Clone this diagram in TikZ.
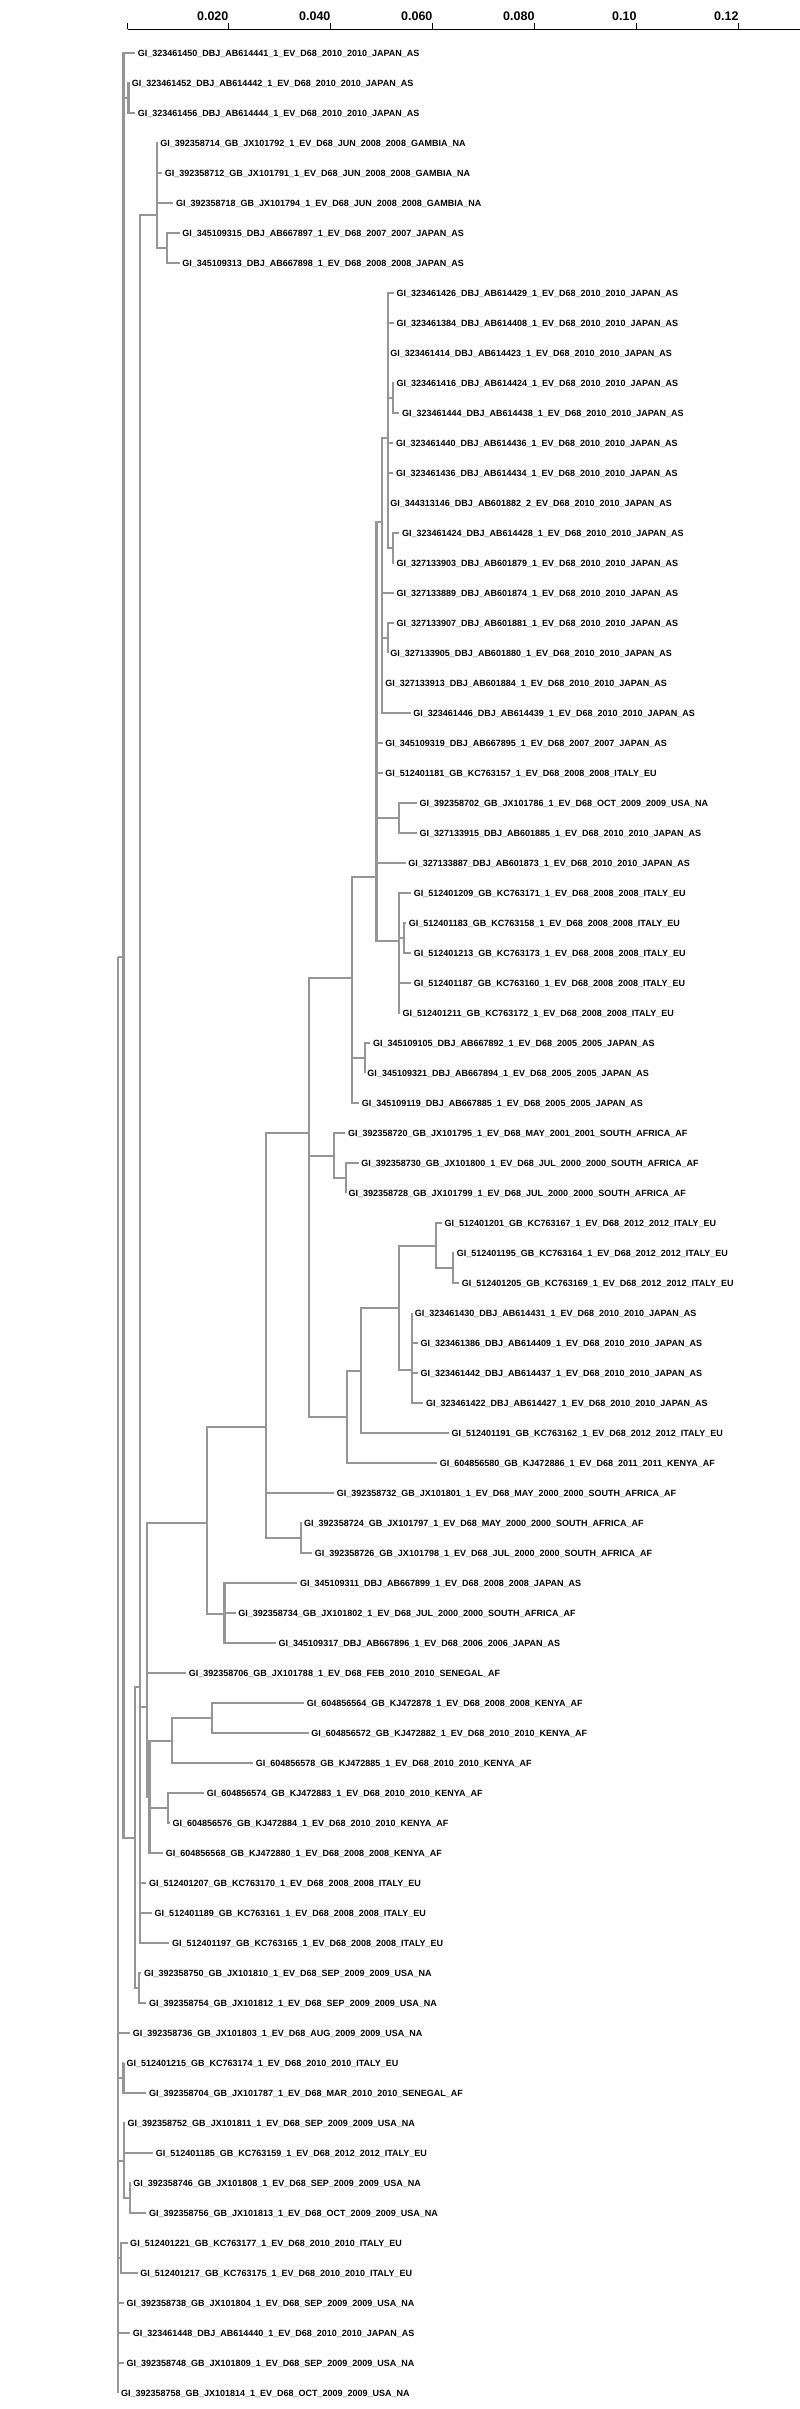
\documentclass[tikz,border=0pt]{standalone}
\usepackage{fontspec}
\setmainfont{Liberation Sans}
\definecolor{branch}{RGB}{150,150,150}
\begin{document}
\begin{tikzpicture}[x=0.5102pt,y=-1pt,
  br/.style={draw=branch,line width=2.2pt},
  taxon/.style={anchor=west,inner xsep=2.5pt,inner ysep=0pt,text height=6.4pt,text depth=0pt,font=\fontsize{9}{9}\selectfont\bfseries},
  ticklab/.style={anchor=east,inner sep=0pt,font=\fontsize{12.5}{12.5}\selectfont\bfseries}]
\useasboundingbox (0,0) rectangle (1568,2409);

% scale axis
\coordinate (a0) at (250,29.3);
\coordinate (a1) at (1568,29.3);
\draw[line width=1pt] (a0) -- (a1);
\draw[line width=1pt] (a0) -- ++(0,-6.6);
\foreach \k/\v in {1/0.020,2/0.040,3/0.060,4/0.080,5/0.10,6/0.12}{
  \coordinate (tk\k) at ({248+200*\k},29.3);
  \draw[line width=1pt] (tk\k) -- ++(0,-6.6);
  \node[ticklab] (tl\k) at ({248+200*\k},15.7) {\v};
}

% taxa
\foreach \i/\bx/\txt in {
1/265/GI\_323461450\_DBJ\_AB614441\_1\_EV\_D68\_2010\_2010\_JAPAN\_AS,
2/253/GI\_323461452\_DBJ\_AB614442\_1\_EV\_D68\_2010\_2010\_JAPAN\_AS,
3/265/GI\_323461456\_DBJ\_AB614444\_1\_EV\_D68\_2010\_2010\_JAPAN\_AS,
4/309/GI\_392358714\_GB\_JX101792\_1\_EV\_D68\_JUN\_2008\_2008\_GAMBIA\_NA,
5/318/GI\_392358712\_GB\_JX101791\_1\_EV\_D68\_JUN\_2008\_2008\_GAMBIA\_NA,
6/340/GI\_392358718\_GB\_JX101794\_1\_EV\_D68\_JUN\_2008\_2008\_GAMBIA\_NA,
7/352/GI\_345109315\_DBJ\_AB667897\_1\_EV\_D68\_2007\_2007\_JAPAN\_AS,
8/352/GI\_345109313\_DBJ\_AB667898\_1\_EV\_D68\_2008\_2008\_JAPAN\_AS,
9/772/GI\_323461426\_DBJ\_AB614429\_1\_EV\_D68\_2010\_2010\_JAPAN\_AS,
10/772/GI\_323461384\_DBJ\_AB614408\_1\_EV\_D68\_2010\_2010\_JAPAN\_AS,
11/760/GI\_323461414\_DBJ\_AB614423\_1\_EV\_D68\_2010\_2010\_JAPAN\_AS,
12/772/GI\_323461416\_DBJ\_AB614424\_1\_EV\_D68\_2010\_2010\_JAPAN\_AS,
13/783/GI\_323461444\_DBJ\_AB614438\_1\_EV\_D68\_2010\_2010\_JAPAN\_AS,
14/771/GI\_323461440\_DBJ\_AB614436\_1\_EV\_D68\_2010\_2010\_JAPAN\_AS,
15/771/GI\_323461436\_DBJ\_AB614434\_1\_EV\_D68\_2010\_2010\_JAPAN\_AS,
16/760/GI\_344313146\_DBJ\_AB601882\_2\_EV\_D68\_2010\_2010\_JAPAN\_AS,
17/783/GI\_323461424\_DBJ\_AB614428\_1\_EV\_D68\_2010\_2010\_JAPAN\_AS,
18/772/GI\_327133903\_DBJ\_AB601879\_1\_EV\_D68\_2010\_2010\_JAPAN\_AS,
19/772/GI\_327133889\_DBJ\_AB601874\_1\_EV\_D68\_2010\_2010\_JAPAN\_AS,
20/772/GI\_327133907\_DBJ\_AB601881\_1\_EV\_D68\_2010\_2010\_JAPAN\_AS,
21/760/GI\_327133905\_DBJ\_AB601880\_1\_EV\_D68\_2010\_2010\_JAPAN\_AS,
22/750/GI\_327133913\_DBJ\_AB601884\_1\_EV\_D68\_2010\_2010\_JAPAN\_AS,
23/805/GI\_323461446\_DBJ\_AB614439\_1\_EV\_D68\_2010\_2010\_JAPAN\_AS,
24/750/GI\_345109319\_DBJ\_AB667895\_1\_EV\_D68\_2007\_2007\_JAPAN\_AS,
25/750/GI\_512401181\_GB\_KC763157\_1\_EV\_D68\_2008\_2008\_ITALY\_EU,
26/817/GI\_392358702\_GB\_JX101786\_1\_EV\_D68\_OCT\_2009\_2009\_USA\_NA,
27/817/GI\_327133915\_DBJ\_AB601885\_1\_EV\_D68\_2010\_2010\_JAPAN\_AS,
28/795/GI\_327133887\_DBJ\_AB601873\_1\_EV\_D68\_2010\_2010\_JAPAN\_AS,
29/806/GI\_512401209\_GB\_KC763171\_1\_EV\_D68\_2008\_2008\_ITALY\_EU,
30/796/GI\_512401183\_GB\_KC763158\_1\_EV\_D68\_2008\_2008\_ITALY\_EU,
31/806/GI\_512401213\_GB\_KC763173\_1\_EV\_D68\_2008\_2008\_ITALY\_EU,
32/806/GI\_512401187\_GB\_KC763160\_1\_EV\_D68\_2008\_2008\_ITALY\_EU,
33/784/GI\_512401211\_GB\_KC763172\_1\_EV\_D68\_2008\_2008\_ITALY\_EU,
34/726/GI\_345109105\_DBJ\_AB667892\_1\_EV\_D68\_2005\_2005\_JAPAN\_AS,
35/715/GI\_345109321\_DBJ\_AB667894\_1\_EV\_D68\_2005\_2005\_JAPAN\_AS,
36/704/GI\_345109119\_DBJ\_AB667885\_1\_EV\_D68\_2005\_2005\_JAPAN\_AS,
37/677/GI\_392358720\_GB\_JX101795\_1\_EV\_D68\_MAY\_2001\_2001\_SOUTH\_AFRICA\_AF,
38/703/GI\_392358730\_GB\_JX101800\_1\_EV\_D68\_JUL\_2000\_2000\_SOUTH\_AFRICA\_AF,
39/678/GI\_392358728\_GB\_JX101799\_1\_EV\_D68\_JUL\_2000\_2000\_SOUTH\_AFRICA\_AF,
40/866/GI\_512401201\_GB\_KC763167\_1\_EV\_D68\_2012\_2012\_ITALY\_EU,
41/890/GI\_512401195\_GB\_KC763164\_1\_EV\_D68\_2012\_2012\_ITALY\_EU,
42/900/GI\_512401205\_GB\_KC763169\_1\_EV\_D68\_2012\_2012\_ITALY\_EU,
43/808/GI\_323461430\_DBJ\_AB614431\_1\_EV\_D68\_2010\_2010\_JAPAN\_AS,
44/819/GI\_323461386\_DBJ\_AB614409\_1\_EV\_D68\_2010\_2010\_JAPAN\_AS,
45/819/GI\_323461442\_DBJ\_AB614437\_1\_EV\_D68\_2010\_2010\_JAPAN\_AS,
46/830/GI\_323461422\_DBJ\_AB614427\_1\_EV\_D68\_2010\_2010\_JAPAN\_AS,
47/880/GI\_512401191\_GB\_KC763162\_1\_EV\_D68\_2012\_2012\_ITALY\_EU,
48/857/GI\_604856580\_GB\_KJ472886\_1\_EV\_D68\_2011\_2011\_KENYA\_AF,
49/655/GI\_392358732\_GB\_JX101801\_1\_EV\_D68\_MAY\_2000\_2000\_SOUTH\_AFRICA\_AF,
50/591/GI\_392358724\_GB\_JX101797\_1\_EV\_D68\_MAY\_2000\_2000\_SOUTH\_AFRICA\_AF,
51/612/GI\_392358726\_GB\_JX101798\_1\_EV\_D68\_JUL\_2000\_2000\_SOUTH\_AFRICA\_AF,
52/583/GI\_345109311\_DBJ\_AB667899\_1\_EV\_D68\_2008\_2008\_JAPAN\_AS,
53/462/GI\_392358734\_GB\_JX101802\_1\_EV\_D68\_JUL\_2000\_2000\_SOUTH\_AFRICA\_AF,
54/541/GI\_345109317\_DBJ\_AB667896\_1\_EV\_D68\_2006\_2006\_JAPAN\_AS,
55/365/GI\_392358706\_GB\_JX101788\_1\_EV\_D68\_FEB\_2010\_2010\_SENEGAL\_AF,
56/596/GI\_604856564\_GB\_KJ472878\_1\_EV\_D68\_2008\_2008\_KENYA\_AF,
57/605/GI\_604856572\_GB\_KJ472882\_1\_EV\_D68\_2010\_2010\_KENYA\_AF,
58/496/GI\_604856578\_GB\_KJ472885\_1\_EV\_D68\_2010\_2010\_KENYA\_AF,
59/400/GI\_604856574\_GB\_KJ472883\_1\_EV\_D68\_2010\_2010\_KENYA\_AF,
60/333/GI\_604856576\_GB\_KJ472884\_1\_EV\_D68\_2010\_2010\_KENYA\_AF,
61/320/GI\_604856568\_GB\_KJ472880\_1\_EV\_D68\_2008\_2008\_KENYA\_AF,
62/287/GI\_512401207\_GB\_KC763170\_1\_EV\_D68\_2008\_2008\_ITALY\_EU,
63/298/GI\_512401189\_GB\_KC763161\_1\_EV\_D68\_2008\_2008\_ITALY\_EU,
64/332/GI\_512401197\_GB\_KC763165\_1\_EV\_D68\_2008\_2008\_ITALY\_EU,
65/277/GI\_392358750\_GB\_JX101810\_1\_EV\_D68\_SEP\_2009\_2009\_USA\_NA,
66/287/GI\_392358754\_GB\_JX101812\_1\_EV\_D68\_SEP\_2009\_2009\_USA\_NA,
67/255/GI\_392358736\_GB\_JX101803\_1\_EV\_D68\_AUG\_2009\_2009\_USA\_NA,
68/243/GI\_512401215\_GB\_KC763174\_1\_EV\_D68\_2010\_2010\_ITALY\_EU,
69/287/GI\_392358704\_GB\_JX101787\_1\_EV\_D68\_MAR\_2010\_2010\_SENEGAL\_AF,
70/245/GI\_392358752\_GB\_JX101811\_1\_EV\_D68\_SEP\_2009\_2009\_USA\_NA,
71/300/GI\_512401185\_GB\_KC763159\_1\_EV\_D68\_2012\_2012\_ITALY\_EU,
72/256/GI\_392358746\_GB\_JX101808\_1\_EV\_D68\_SEP\_2009\_2009\_USA\_NA,
73/287/GI\_392358756\_GB\_JX101813\_1\_EV\_D68\_OCT\_2009\_2009\_USA\_NA,
74/250/GI\_512401221\_GB\_KC763177\_1\_EV\_D68\_2010\_2010\_ITALY\_EU,
75/270/GI\_512401217\_GB\_KC763175\_1\_EV\_D68\_2010\_2010\_ITALY\_EU,
76/243/GI\_392358738\_GB\_JX101804\_1\_EV\_D68\_SEP\_2009\_2009\_USA\_NA,
77/255/GI\_323461448\_DBJ\_AB614440\_1\_EV\_D68\_2010\_2010\_JAPAN\_AS,
78/243/GI\_392358748\_GB\_JX101809\_1\_EV\_D68\_SEP\_2009\_2009\_USA\_NA,
79/232/GI\_392358758\_GB\_JX101814\_1\_EV\_D68\_OCT\_2009\_2009\_USA\_NA}
  \node[taxon] (l\i) at (\bx,{23.3+30*\i}) {\txt};

% internal nodes
\foreach \n/\nx/\ny in {R/232/957, X/242/957, N23/252/98.3, Y/265/1838, Z/275/1687,
  N48/308/215, N78/328/248.3, W/288/1707, B/405/1523, C/522/1427, E/605/1133,
  F/690/978, F1/738/877, J/748/522, J1/760/438, N1213/770/398.3, N1718/770/548.3,
  N2021/760/638.3, N2627/782/818.3, L/782/941, N3031/792/938.3, N3435/715/1058.3,
  G/655/1156, N3839/678/1178.3, H/680/1417, I/708/1371, I1/782/1308, I2/855/1246,
  N4142/888/1268.3, I3/808/1370, N5051/590/1538.3, D/440/1614, K/293/1797,
  K2/337/1741, N5657/416/1718.3, N5960/330/1808.3, N6566/272/1988.3,
  N6869/242/2078.3, Q/243/2161, N7273/255/2198.3, N7475/237/2258.3}
  \coordinate (\n) at (\nx,\ny);

% branches to internal nodes
\foreach \p/\c in {R/X, R/N6869, R/Q, R/N7475, X/N23, X/Y, Y/Z, Y/N6566,
  Z/N48, Z/W, N48/N78, W/B, W/K, K/K2, K/N5960, K2/N5657, B/C, B/D,
  C/E, C/N5051, E/F, E/G, E/H, F/F1, F/N3435, F1/J, F1/N2627, F1/L,
  J/J1, J/N2021, J1/N1213, J1/N1718, L/N3031, G/N3839, H/I, I/I1,
  I1/I2, I1/I3, I2/N4142, Q/N7273}
  \draw[br] (\p) |- (\c);

% branches to taxa
\foreach \p/\c in {R/67, R/76, R/77, R/78, R/79, X/1, N23/2, N23/3,
  Z/62, Z/63, Z/64, N48/4, N48/5, N48/6, N78/7, N78/8, W/55, K/61,
  K2/58, N5657/56, N5657/57, N5960/59, N5960/60, N6566/65, N6566/66,
  D/52, D/53, D/54, C/49, N5051/50, N5051/51, F/36, N3435/34, N3435/35,
  F1/24, F1/25, F1/28, J/19, J/22, J/23, J1/9, J1/10, J1/11, J1/14,
  J1/15, J1/16, N1213/12, N1213/13, N1718/17, N1718/18, N2021/20,
  N2021/21, N2627/26, N2627/27, L/29, L/32, L/33, N3031/30, N3031/31,
  G/37, N3839/38, N3839/39, H/48, I/47, I2/40, N4142/41, N4142/42,
  I3/43, I3/44, I3/45, I3/46, N6869/68, N6869/69, Q/70, Q/71,
  N7273/72, N7273/73, N7475/74, N7475/75}
  \draw[br] (\p) |- (l\c.west);
\end{tikzpicture}
\end{document}
